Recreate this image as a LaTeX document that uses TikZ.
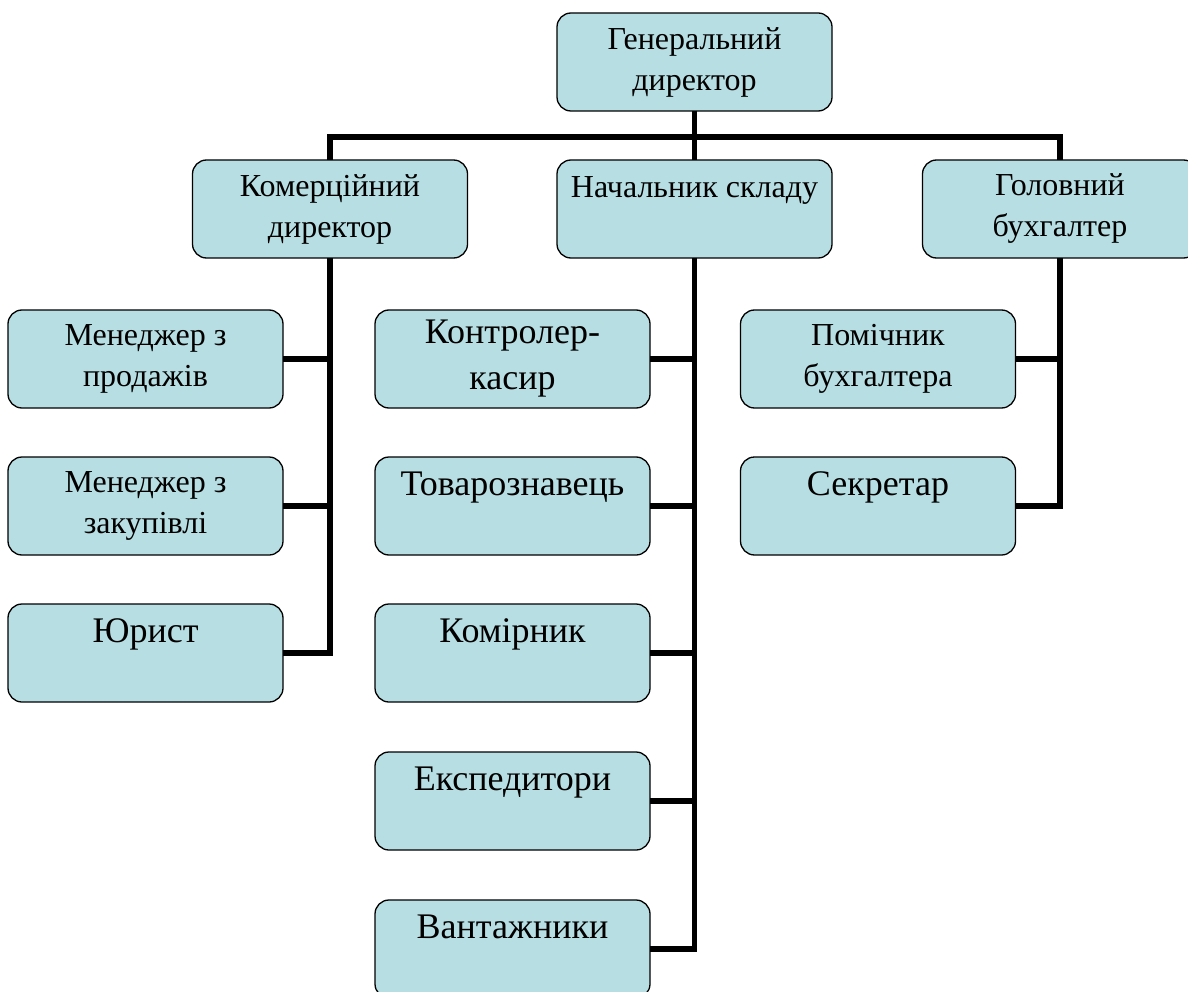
\documentclass[tikz,border=0pt]{standalone}
\usepackage{fontspec}
\setmainfont{Liberation Serif}
\usetikzlibrary{positioning}
\definecolor{boxColor}{RGB}{183,222,226}
\tikzstyle{chart} = [x = 1pt, y = -1pt]
\tikzstyle{boxStyle} = [draw=black, fill=boxColor, line width=1.3pt, rounded corners=14pt, minimum width=275pt, minimum height=98pt, inner sep=0pt, outer sep=0pt, align=center, font=\fontsize{32}{41}\selectfont]
\tikzstyle{bigText} = [font=\fontsize{36}{46}\selectfont]
\tikzstyle{topLine} = [text height=26pt, text depth=48pt]
\tikzstyle{linkLine} = [color=black, line width=5.5pt]

\begin{document}
\begin{tikzpicture}[chart]
      \useasboundingbox (0,0) rectangle (1188,992);
      \clip (0,0) rectangle (1188,992);

      % heads
      \node [boxStyle] (general) at (694.5,62) {Генеральний\\директор};
      \node [boxStyle] (commerce) at (330,209) {Комерційний\\директор};
      \node [boxStyle, topLine] (store) at (694.5,209) {Начальник складу};
      \node [boxStyle] (account) at (1060,209) {Головний\\бухгалтер};

      % left column
      \node [boxStyle] (sales) at (145.5,359) {Менеджер з\\продажів};
      \node [boxStyle, below = 49pt of sales] (purchase) {Менеджер з\\закупівлі};
      \node [boxStyle, bigText, topLine, below = 49pt of purchase] (lawyer) {Юрист};

      % middle column
      \node [boxStyle, bigText] (cashier) at (512.5,359) {Контролер-\\касир};
      \node [boxStyle, bigText, topLine, below = 49pt of cashier] (merch) {Товарознавець};
      \node [boxStyle, bigText, topLine, below = 49pt of merch] (keeper) {Комірник};
      \node [boxStyle, bigText, topLine, below = 50pt of keeper] (forward) {Експедитори};
      \node [boxStyle, bigText, topLine, below = 50pt of forward] (loader) {Вантажники};

      % right column
      \node [boxStyle] (helper) at (878,359) {Помічник\\бухгалтера};
      \node [boxStyle, bigText, topLine, below = 49pt of helper] (secretary) {Секретар};

      % links
      \coordinate (bus) at (694.5,137);
      \draw [linkLine] (general.south) -- (bus);
      \draw [linkLine] (commerce.north) |- (bus) -| (account.north);
      \draw [linkLine] (bus) -- (store.north);

      \draw [linkLine] (commerce.south) |- (lawyer.east);
      \draw [linkLine] (sales.east) -- (sales.east -| commerce.south);
      \draw [linkLine] (purchase.east) -- (purchase.east -| commerce.south);

      \draw [linkLine] (store.south) |- (loader.east);
      \foreach \item in {cashier, merch, keeper, forward}
        \draw [linkLine] (\item.east) -- (\item.east -| store.south);

      \draw [linkLine] (account.south) |- (secretary.east);
      \draw [linkLine] (helper.east) -- (helper.east -| account.south);
    \end{tikzpicture}
\end{document}
